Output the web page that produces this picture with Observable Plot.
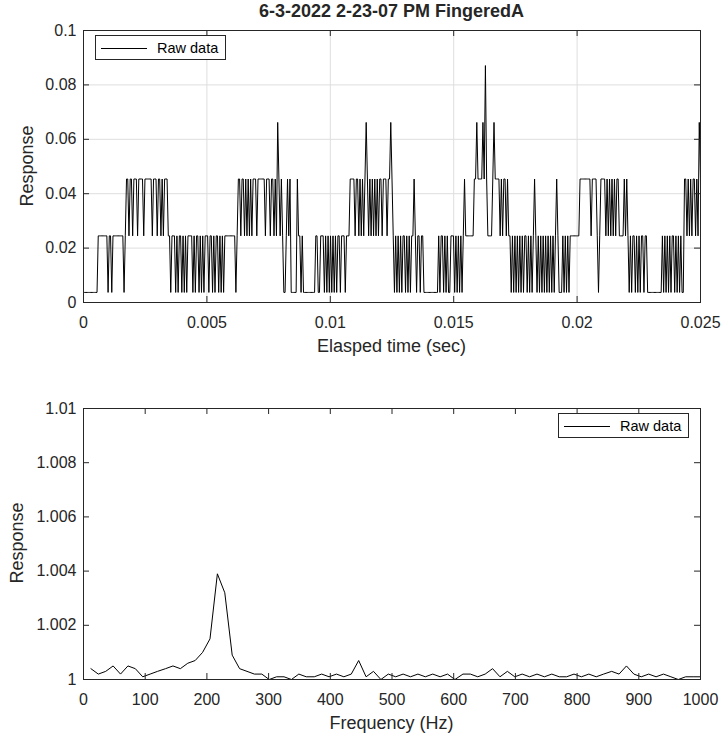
<!DOCTYPE html>
<html>
<head>
<meta charset="utf-8">
<script src="https://cdn.jsdelivr.net/npm/d3@7"></script>
<script src="https://cdn.jsdelivr.net/npm/@observablehq/plot@0.6"></script>
<style>
html,body{margin:0;padding:0;background:#fff;}
#fig{position:relative;width:724px;height:739px;font-family:"Liberation Sans",Arial,Helvetica,sans-serif;color:#262626;overflow:hidden;background:#fff}
.panel{position:absolute;left:0}
.lbl{position:absolute;white-space:nowrap;transform:translate(-50%,-50%);font-size:18px;line-height:1}
.ylbl{position:absolute;white-space:nowrap;transform:translate(-50%,-50%) rotate(-90deg);font-size:18px;line-height:1}
.title{font-weight:bold}
.legend{position:absolute;background:#fff;border:1px solid #262626;box-sizing:border-box;font-size:14.5px;color:#000}
.legend .ln{position:absolute;height:0;border-top:1px solid #000}
.legend .tx{position:absolute;top:50%;transform:translateY(-50%);line-height:1;white-space:nowrap}
</style>
</head>
<body>
<div id="fig"></div>
<script>
// ---------- DATA ----------
const titleText = "6-3-2022 2-23-07 PM FingeredA";
const legendText = "Raw data";

// Top panel: quantized response levels and per-sample level codes
const responseLevels = [0.0037, 0.0245, 0.0454, 0.0662, 0.0871];
const rawLevelCodes = [
  "000000000000",
  "11111111011011111111101",
  "22122122212222122222212221221212221",
  "10111010110101011110101101010111011010110101011111111101",
  "22122121212122212222221222122121" + "3" + "21210012120000021",
  "10100" + "00000000" + "1100111010101010101101110111",
  "2222122121212" + "3" + "2121212121221222122" + "3" + "2",
  "10101010110101011" + "2" + "1011011" + "000000000000" + "101101010011101010101",
  "2" + "1111111" + "22" + "3" + "2222" + "3" + "2" + "4" + "2" + "1111" + "2" + "3" + "222" + "2121221211",
  "0101010101011010101" + "2" + "10101010101010101" + "2" + "10001010101" + "1111111",
  "222222222" + "1" + "2222" + "101" + "2222" + "12121212122" + "1111" + "2121",
  "0101101010110110" + "00000000000" + "101010101101010100",
  "22121212212132"
].join("");
const timeDomain = [0, 0.025];
const timeTicks = [0, 0.005, 0.01, 0.015, 0.02, 0.025];
const timeTickLabels = ["0", "0.005", "0.01", "0.015", "0.02", "0.025"];
const topYDomain = [0, 0.1];
const topYTicks = [0, 0.02, 0.04, 0.06, 0.08, 0.1];
const topYTickLabels = ["0", "0.02", "0.04", "0.06", "0.08", "0.1"];

// Bottom panel: spectrum
const frequencies = [12, 24, 36, 48, 60, 72, 84, 96, 108, 120, 133, 145, 157, 169, 181, 193, 205, 217, 229, 241,
  253, 265, 277, 289, 301, 313, 325, 337, 349, 361, 374, 386, 398, 410, 422, 434, 446, 458, 470, 482,
  494, 506, 518, 530, 542, 554, 566, 578, 590, 602, 615, 627, 639, 651, 663, 675, 687, 699, 711, 723,
  735, 747, 759, 771, 783, 795, 807, 819, 831, 843, 856, 868, 880, 892, 904, 916, 928, 940, 952, 964,
  976, 988, 1000];
const spectrum = [1.0004, 1.0002, 1.0003, 1.0005, 1.0002, 1.0005, 1.0004, 1.0001, 1.0002, 1.0003,
  1.0004, 1.0005, 1.0004, 1.0006, 1.0007, 1.0010, 1.0015, 1.0039, 1.0032, 1.0009,
  1.0004, 1.0003, 1.0002, 1.0002, 1.0000, 1.0001, 1.0001, 1.0000, 1.0002, 1.0001,
  1.0001, 1.0002, 1.0001, 1.0002, 1.0001, 1.0002, 1.0007, 1.0001, 1.0003, 1.0000,
  1.0002, 1.0001, 1.0002, 1.0001, 1.0002, 1.0001, 1.0002, 1.0001, 1.0002, 1.0000,
  1.0002, 1.0002, 1.0001, 1.0002, 1.0004, 1.0001, 1.0003, 1.0001, 1.0002, 1.0001,
  1.0002, 1.0001, 1.0002, 1.0001, 1.0001, 1.0002, 1.0001, 1.0002, 1.0001, 1.0002,
  1.0003, 1.0002, 1.0005, 1.0002, 1.0001, 1.0002, 1.0001, 1.0002, 1.0001, 1.0000,
  1.0001, 1.0001, 1.0001];
const freqDomain = [0, 1000];
const freqTicks = [0, 100, 200, 300, 400, 500, 600, 700, 800, 900, 1000];
const freqTickLabels = ["0", "100", "200", "300", "400", "500", "600", "700", "800", "900", "1000"];
const botYDomain = [1, 1.01];
const botYTicks = [1, 1.002, 1.004, 1.006, 1.008, 1.01];
const botYTickLabels = ["1", "1.002", "1.004", "1.006", "1.008", "1.01"];

// ---------- BUILD ----------
const rawData = Array.from(rawLevelCodes, (c, i) => ({
  t: i * (timeDomain[1] - timeDomain[0]) / (rawLevelCodes.length - 1),
  r: responseLevels[+c]
}));
const specData = frequencies.map((f, i) => ({f, r: spectrum[i]}));

const W = 724, ML = 83, MR = 24;
const axisColor = "#262626";
const TICK = 6;

function panel({data, xKey, yKey, xDomain, yDomain, xTicks, xLabels, yTicks, yLabels, grid, height, marginTop, marginBottom}) {
  const plotW = W - ML - MR;
  const plotH = height - marginTop - marginBottom;
  const fx = new Map(xTicks.map((t, i) => [t, xLabels[i]]));
  const fy = new Map(yTicks.map((t, i) => [t, yLabels[i]]));
  const marks = [];
  if (grid) {
    marks.push(Plot.gridX(xTicks, {stroke: "#dedede", strokeOpacity: 1}));
    marks.push(Plot.gridY(yTicks, {stroke: "#dedede", strokeOpacity: 1}));
  }
  marks.push(Plot.line(data, {x: xKey, y: yKey, stroke: "#000", strokeWidth: 1, clip: true}));
  marks.push(Plot.ruleX(xTicks, {x: d => d, insetTop: plotH - TICK, stroke: axisColor}));
  marks.push(Plot.ruleX(xTicks, {x: d => d, insetBottom: plotH - TICK, stroke: axisColor}));
  marks.push(Plot.ruleY(yTicks, {y: d => d, insetRight: plotW - TICK, stroke: axisColor}));
  marks.push(Plot.ruleY(yTicks, {y: d => d, insetLeft: plotW - TICK, stroke: axisColor}));
  marks.push(Plot.frame({stroke: axisColor, strokeWidth: 1}));
  marks.push(Plot.axisX(xTicks, {tickSize: 0, tickPadding: 14, fontSize: 16, label: null, tickFormat: d => fx.get(d)}));
  marks.push(Plot.axisY(yTicks, {tickSize: 0, tickPadding: 7, fontSize: 16, label: null, tickFormat: d => fy.get(d)}));
  return Plot.plot({
    width: W, height, marginLeft: ML, marginRight: MR, marginTop, marginBottom,
    x: {domain: xDomain}, y: {domain: yDomain},
    style: {fontFamily: '"Liberation Sans", Arial, Helvetica, sans-serif', color: axisColor, background: "transparent", overflow: "visible"},
    marks
  });
}

const fig = document.getElementById("fig");

const topPanel = panel({data: rawData, xKey: "t", yKey: "r", xDomain: timeDomain, yDomain: topYDomain,
  xTicks: timeTicks, xLabels: timeTickLabels, yTicks: topYTicks, yLabels: topYTickLabels,
  grid: true, height: 378, marginTop: 30, marginBottom: 76});
topPanel.classList.add("panel"); topPanel.style.top = "0px";
fig.appendChild(topPanel);

const botPanel = panel({data: specData, xKey: "f", yKey: "r", xDomain: freqDomain, yDomain: botYDomain,
  xTicks: freqTicks, xLabels: freqTickLabels, yTicks: botYTicks, yLabels: botYTickLabels,
  grid: false, height: 361, marginTop: 30, marginBottom: 60});
botPanel.classList.add("panel"); botPanel.style.top = "378px";
fig.appendChild(botPanel);

function addDiv(cls, text, x, y) {
  const d = document.createElement("div");
  d.className = cls; d.textContent = text;
  d.style.left = x + "px"; d.style.top = y + "px";
  fig.appendChild(d);
  return d;
}
addDiv("lbl title", titleText, 391.5, 11);
addDiv("lbl", "Elasped time (sec)", 391.5, 346);
addDiv("ylbl", "Response", 27, 166);
addDiv("lbl", "Frequency (Hz)", 391.5, 723);
addDiv("ylbl", "Response", 17, 543);

function legend(x, y, w, h, lineLen) {
  const d = document.createElement("div");
  d.className = "legend";
  d.style.left = x + "px"; d.style.top = y + "px"; d.style.width = w + "px"; d.style.height = h + "px";
  const ln = document.createElement("div");
  ln.className = "ln"; ln.style.left = "5px"; ln.style.width = lineLen + "px"; ln.style.top = (h / 2 - 1) + "px";
  const tx = document.createElement("div");
  tx.className = "tx"; tx.style.left = (lineLen + 15) + "px"; tx.textContent = legendText;
  d.appendChild(ln); d.appendChild(tx);
  fig.appendChild(d);
}
legend(95, 35, 131, 25, 46);
legend(558, 413, 131, 25, 46);
</script>
</body>
</html>
